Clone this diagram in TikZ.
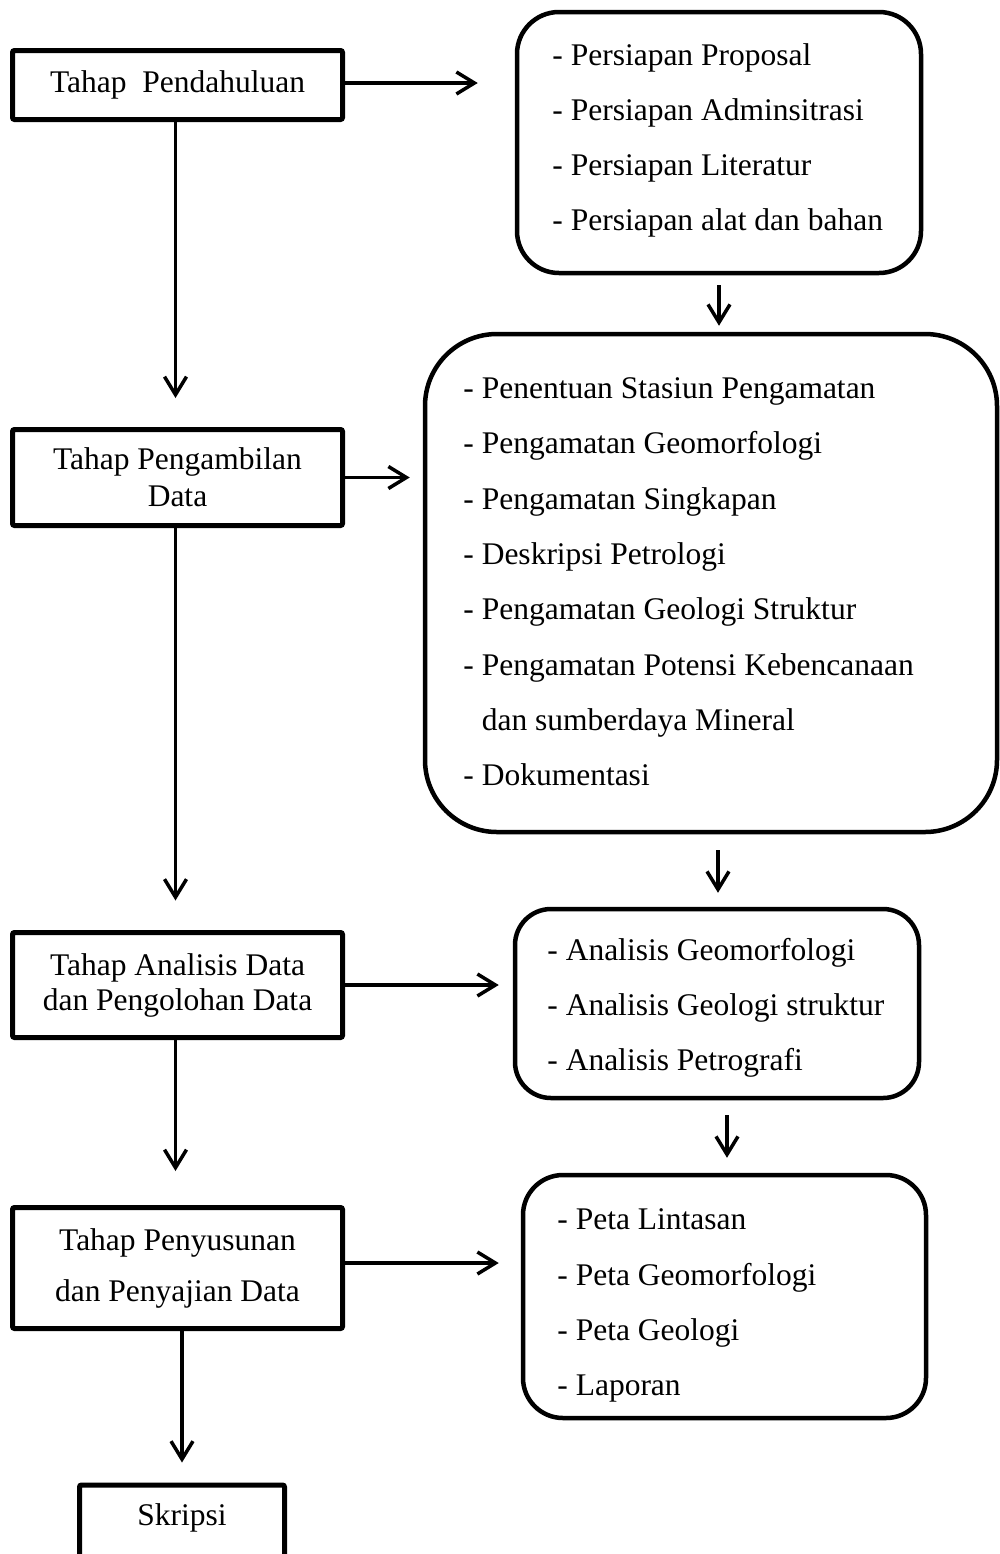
\documentclass[tikz,border=0pt]{standalone}
\usepackage{fontspec}
\setmainfont{Liberation Serif}
\usetikzlibrary{arrows.meta}
\begin{document}
\begin{tikzpicture}[x=0.5pt,y=-0.5pt,
  txt/.style={font=\fontsize{15.75}{18}\selectfont, inner sep=0pt, anchor=base west},
  lbox/.style={draw, line width=2.5pt, rounded corners=1pt, inner sep=0pt,
    font=\fontsize{15.75}{18.5}\selectfont, minimum width=165pt},
  rbox/.style={draw, line width=2.25pt, inner sep=0pt},
  arr/.style={line width=1.75pt, -{Straight Barb[length=9pt,width=11pt]}}]
\clip (0,0) rectangle (1000,1554);

% left column
\node[lbox, minimum height=34.5pt] (b1) at (177.5,85) {Tahap\ \ Pendahuluan};
\node[lbox, align=center, minimum height=48pt] (b2) at (177.5,477.5) {Tahap Pengambilan\\Data};
\node[lbox, align=center, minimum height=52.5pt, font=\fontsize{15.75}{17.5}\selectfont] (b3) at (177.5,985) {Tahap Analisis Data\\dan Pengolohan Data};
\node[lbox, align=center, minimum height=60.5pt, font=\fontsize{15.75}{25.5}\selectfont] (b4) at (177.5,1268) {Tahap Penyusunan\\dan Penyajian Data};
\node[lbox, minimum width=102.5pt, anchor=north, text height=20pt, text depth=35pt] (sk) at (182,1482.5) {Skripsi};

% right column
\node[rbox, rounded corners=21pt, minimum width=202pt, minimum height=130.5pt] (r1) at (719,142.5) {};
\node[rbox, rounded corners=36pt, minimum width=286pt, minimum height=249pt] (r2) at (711,583) {};
\node[rbox, rounded corners=18pt, minimum width=202pt, minimum height=94.5pt] (r3) at (717,1003.5) {};
\node[rbox, rounded corners=20pt, minimum width=201.5pt, minimum height=121.5pt] (r4) at (724.5,1296.5) {};

\node[txt] (r1a) at (552,65) {- Persiapan Proposal};
\node[txt] (r1b) at (552,120) {- Persiapan Adminsitrasi};
\node[txt] (r1c) at (552,175) {- Persiapan Literatur};
\node[txt] (r1d) at (552,230) {- Persiapan alat dan bahan};

\node[txt] (r2a) at (463,398) {- Penentuan Stasiun Pengamatan};
\node[txt] (r2b) at (463,453) {- Pengamatan Geomorfologi};
\node[txt] (r2c) at (463,509) {- Pengamatan Singkapan};
\node[txt] (r2d) at (463,564) {- Deskripsi Petrologi};
\node[txt] (r2e) at (463,619) {- Pengamatan Geologi Struktur};
\node[txt] (r2f) at (463,675) {- Pengamatan Potensi Kebencanaan};
\node[txt] (r2g) at (463,730) {\hphantom{- }dan sumberdaya Mineral};
\node[txt] (r2h) at (463,785) {- Dokumentasi};

\node[txt] (r3a) at (547,960) {- Analisis Geomorfologi};
\node[txt] (r3b) at (547,1015) {- Analisis Geologi struktur};
\node[txt] (r3c) at (547,1070) {- Analisis Petrografi};

\node[txt] (r4a) at (557,1229) {- Peta Lintasan};
\node[txt] (r4b) at (557,1285) {- Peta Geomorfologi};
\node[txt] (r4c) at (557,1340) {- Peta Geologi};
\node[txt] (r4d) at (557,1395) {- Laporan};

% horizontal arrows
\coordinate (h1) at ([yshift=1pt]b1.east);
\coordinate (h4) at ([yshift=2.5pt]b4.east);
\draw[arr, shorten >=18.5pt] (h1) -- (h1 -| r1.west);
\draw[arr, shorten >=6.5pt] (b2.east) -- (b2.east -| r2.west);
\draw[arr, shorten >=7pt] (b3.east) -- (b3.east -| r3.west);
\draw[arr, shorten >=11pt] (h4) -- (h4 -| r4.west);

% left vertical arrows
\coordinate (v1) at ([xshift=-1pt]b1.south);
\coordinate (v2) at ([xshift=-1pt]b2.south);
\coordinate (v3) at ([xshift=-1pt]b3.south);
\draw[arr, shorten >=14.5pt] (v1) -- (v1 |- b2.north);
\draw[arr, shorten >=14.75pt] (v2) -- (v2 |- b3.north);
\draw[arr, shorten >=17pt] (v3) -- (v3 |- b4.north);
\draw[arr, shorten >=10pt] (b4.south -| sk.north) -- (sk.north);

% right vertical arrows
\coordinate (w2) at ([xshift=3.5pt]r2.south);
\coordinate (w3) at ([xshift=5pt]r3.south);
\draw[arr, shorten <=5pt, shorten >=3pt] (r1.south) -- (r1.south |- r2.north);
\draw[arr, shorten <=8pt, shorten >=7pt] (w2) -- (w2 |- r3.north);
\draw[arr, shorten <=7.5pt, shorten >=7.5pt] (w3) -- (w3 |- r4.north);
\end{tikzpicture}
\end{document}
